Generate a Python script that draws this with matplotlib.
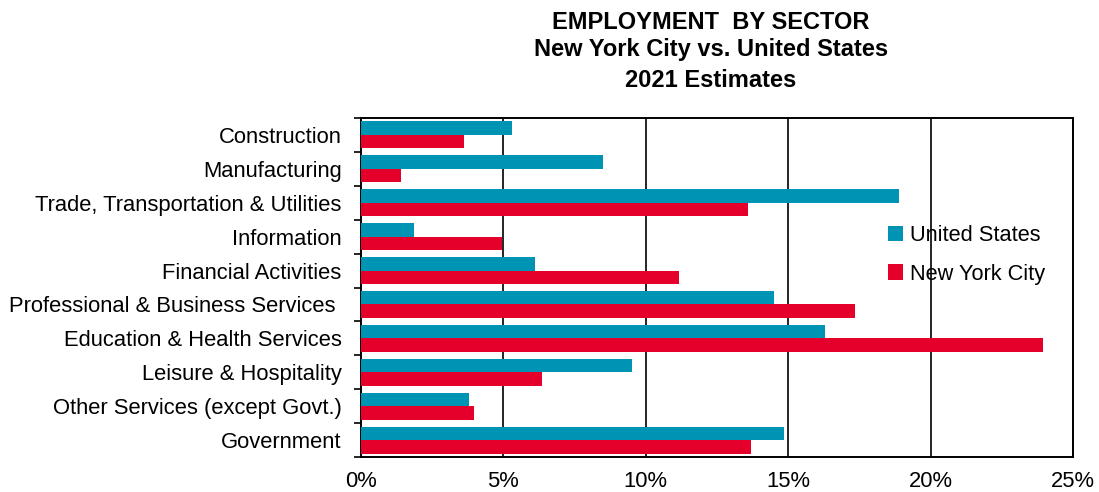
import numpy as np
import matplotlib
matplotlib.use("Agg")
import matplotlib.pyplot as plt
from matplotlib.ticker import FixedLocator, PercentFormatter

plt.rcParams['font.family'] = ['Liberation Sans', 'DejaVu Sans']

# Data (percent of total employment)
sectors = [
    "Construction",
    "Manufacturing",
    "Trade, Transportation & Utilities",
    "Information",
    "Financial Activities",
    "Professional & Business Services ",
    "Education & Health Services",
    "Leisure & Hospitality",
    "Other Services (except Govt.)",
    "Government",
]
us_share = [5.3, 8.5, 18.9, 1.85, 6.1, 14.5, 16.3, 9.5, 3.8, 14.85]
nyc_share = [3.6, 1.4, 13.6, 4.95, 11.15, 17.35, 23.95, 6.35, 3.95, 13.7]
x_ticks = [0, 5, 10, 15, 20, 25]

us_color = "#0094B4"
nyc_color = "#E4002B"

fig = plt.figure(figsize=(10.99, 4.92), dpi=100)
ax = fig.add_axes([0.3285, 0.0711, 0.6478, 0.6891])

y = np.arange(len(sectors))
bar_h = 0.4
ax.barh(y - 0.2, us_share, height=bar_h, color=us_color, label="United States", zorder=3)
ax.barh(y + 0.2, nyc_share, height=bar_h, color=nyc_color, label="New York City", zorder=3)

ax.set_ylim(len(sectors) - 0.5, -0.5)
ax.set_xlim(0, 25)

# category labels, with tick marks on the band boundaries
ax.set_yticks(y)
ax.set_yticklabels(sectors, fontsize=15.8)
ax.tick_params(axis='y', which='major', length=0, pad=14)
ax.yaxis.set_minor_locator(FixedLocator(np.arange(-0.5, len(sectors), 1)))
ax.tick_params(axis='y', which='minor', length=5, width=1.2, direction='out')

ax.set_xticks(x_ticks)
ax.xaxis.set_major_formatter(PercentFormatter(decimals=0))
ax.tick_params(axis='x', length=0, pad=10, labelsize=15.8)
ax.grid(axis='x', color='black', linewidth=1.2, zorder=0)

for s in ax.spines.values():
    s.set_color('black')
    s.set_linewidth(1.4)

tx = 711 / 1099
fig.text(tx, 0.955, "EMPLOYMENT  BY SECTOR", ha='center', va='center',
         fontsize=17, fontweight='bold')
fig.text(tx, 0.900, "New York City vs. United States", ha='center', va='center',
         fontsize=17, fontweight='bold')
fig.text(tx, 0.836, "2021 Estimates", ha='center', va='center',
         fontsize=17, fontweight='bold')

ax.legend(loc='center left', bbox_to_anchor=(879 / 1099, 1 - 255 / 492),
          bbox_transform=fig.transFigure, frameon=False, fontsize=15.7,
          handlelength=0.7, handleheight=0.7, handletextpad=0.3,
          labelspacing=0.8, borderaxespad=0)

fig.savefig("out.png", dpi=100)
